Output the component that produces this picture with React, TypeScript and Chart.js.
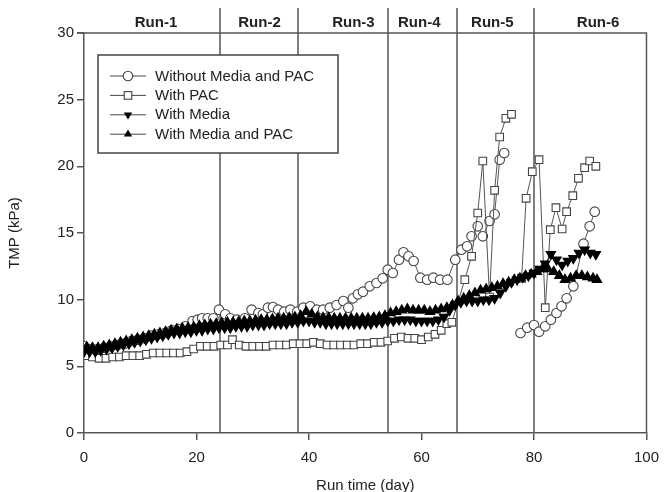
import React, { useEffect, useRef } from 'react';
import { Chart, registerables } from 'chart.js';

Chart.register(...registerables);

const FONT = '"Liberation Sans", Arial, Helvetica, sans-serif';

// Series names and marker kinds
const seriesNames = ['Without Media and PAC', 'With PAC', 'With Media', 'With Media and PAC'];

// Run periods (day boundaries) and their header labels
const runNames = ['Run-1', 'Run-2', 'Run-3', 'Run-4', 'Run-5', 'Run-6'];
const runLabelDays = [12.8, 31.2, 47.9, 59.6, 72.6, 91.4];
const runBoundaryDays = [24.2, 38, 54, 66.3, 80];

// Axis ranges / ticks
const xMin = 0, xMax = 100, xStep = 20;
const yMin = 0, yMax = 30, yStep = 5;

// Without Media and PAC (circles)
const noneDays = [
  0.0, 1.2, 2.4, 3.6, 4.8, 6.0, 7.2, 8.4, 9.6, 10.8, 12.0, 13.2, 14.4, 15.6, 16.8, 18.0,
  19.3, 20.2, 21.0, 22.0, 23.0, 24.0, 25.1, 26.0, 27.2, 28.6, 29.8, 31.0, 31.8, 32.7, 33.6, 34.5,
  35.6, 36.7, 37.9, 39.0, 40.2, 41.4, 42.5, 43.7, 44.9, 46.1, 47.0, 47.8, 48.7, 49.6, 50.8, 52.0,
  53.1, 54.0, 54.9, 56.0, 56.8, 57.7, 58.6, 59.8, 61.0, 62.1, 63.3, 64.6, 66.0, 67.1, 68.1, 68.9,
  70.0, 70.9, 72.1, 73.0, 73.9, 74.7, 76.2, 77.6, 78.8, 80.0, 80.9, 82.0, 83.0, 84.0, 84.9, 85.8,
  87.0, 88.8, 89.9, 90.8,
];
const noneTmp = [
  6.5, 6.3, 6.3, 6.4, 6.5, 6.6, 6.7, 6.9, 7.0, 7.1, 7.3, 7.4, 7.5, 7.7, 7.8, 8.0,
  8.4, 8.5, 8.6, 8.6, 8.6, 9.25, 8.9, 8.6, 8.5, 8.6, 9.25, 9.0, 8.9, 9.4, 9.45, 9.25,
  9.1, 9.25, 9.1, 9.4, 9.5, 9.25, 9.25, 9.4, 9.6, 9.9, 9.4, 10.1, 10.4, 10.6, 11.0, 11.25,
  11.6, 12.25, 12.0, 13.0, 13.55, 13.25, 12.9, 11.65, 11.5, 11.65, 11.5, 11.5, 13.0, 13.75, 14.0, 14.75,
  15.5, 14.75, 15.9, 16.4, 20.5, 21.0, null, 7.5, 7.9, 8.1, 7.6, 8.0, 8.5, 9.0, 9.5, 10.1,
  11.0, 14.2, 15.5, 16.6,
];

// With PAC (squares)
const pacDays = [
  0.3, 1.5, 2.7, 3.9, 5.1, 6.3, 7.5, 8.7, 9.9, 11.1, 12.3, 13.5, 14.7, 15.9, 17.1, 18.3,
  19.5, 20.7, 21.9, 23.1, 24.3, 25.5, 26.4, 27.6, 28.8, 30.0, 31.2, 32.4, 33.6, 34.8, 36.0, 37.2,
  38.4, 39.6, 40.8, 42.0, 43.2, 44.4, 45.6, 46.8, 48.0, 49.2, 50.4, 51.6, 52.8, 54.0, 55.2, 56.4,
  57.6, 58.8, 60.0, 61.2, 62.4, 63.5, 64.5, 65.4, 67.7, 68.9, 70.0, 70.9, 72.1, 73.0, 73.9, 75.0,
  76.0, 77.0, 77.8, 78.6, 79.7, 80.9, 82.0, 82.9, 83.9, 85.0, 85.8, 86.9, 87.9, 89.0, 89.9, 91.0,
];
const pacTmp = [
  5.8, 5.7, 5.6, 5.6, 5.7, 5.7, 5.8, 5.8, 5.8, 5.9, 6.0, 6.0, 6.0, 6.0, 6.0, 6.1,
  6.3, 6.5, 6.5, 6.5, 6.6, 6.6, 7.0, 6.6, 6.5, 6.5, 6.5, 6.5, 6.6, 6.6, 6.6, 6.7,
  6.7, 6.7, 6.8, 6.7, 6.6, 6.6, 6.6, 6.6, 6.6, 6.7, 6.7, 6.8, 6.8, 6.9, 7.1, 7.2,
  7.1, 7.1, 7.0, 7.2, 7.4, 7.7, 8.2, 8.3, 11.5, 13.25, 16.5, 20.4, 10.2, 18.2, 22.2, 23.6,
  23.9, null, 11.6, 17.6, 19.6, 20.5, 9.4, 15.25, 16.9, 15.3, 16.6, 17.8, 19.1, 19.9, 20.4, 20.0,
];

// With Media (down triangles)
const mediaDays = [
  0, 1, 2, 3, 4, 5, 6, 7, 8, 9, 10, 11, 12, 13, 14, 15, 16, 17, 18, 19, 20, 21, 22, 23,
  24, 25, 26, 27, 28, 29, 30, 31, 32, 33, 34, 35, 36, 37, 38, 39, 40, 41, 42, 43, 44, 45, 46, 47,
  48, 49, 50, 51, 52, 53, 54, 55, 56, 57, 58, 59, 60, 61, 62, 63, 64, 65, 66, 67, 68, 69, 70, 71,
  72, 73, 74, 75, 76, 77, 78, 79, 80, 81, 82, 83, 84, 85, 86, 87, 88, 89, 90, 91,
];
const mediaTmp = [
  6.1, 6.1, 6.1, 6.2, 6.3, 6.4, 6.5, 6.6, 6.7, 6.8, 6.9, 7.0, 7.1, 7.2, 7.3, 7.4, 7.5, 7.5, 7.6, 7.6, 7.7, 7.7, 7.8, 7.8,
  7.9, 7.9, 7.9, 8.0, 8.0, 8.0, 8.1, 8.1, 8.1, 8.2, 8.2, 8.2, 8.2, 8.3, 8.3, 8.4, 8.4, 8.3, 8.3, 8.2, 8.2, 8.2, 8.2, 8.2,
  8.2, 8.2, 8.2, 8.2, 8.3, 8.3, 8.4, 8.4, 8.5, 8.5, 8.5, 8.4, 8.4, 8.4, 8.4, 8.5, 8.7, 9.2, 9.6, 9.8, 9.9, 9.9, 9.9, 10.0,
  10.0, 10.1, 10.5, 11.0, 11.3, 11.5, 11.7, 11.8, 12.0, 12.3, 12.7, 13.4, 13.0, 12.6, 12.9, 13.1, 13.5, 13.75, 13.5, 13.4,
];

// With Media and PAC (up triangles)
const mediaPacDays = [
  0.5, 1.5, 2.5, 3.5, 4.5, 5.5, 6.5, 7.5, 8.5, 9.5, 10.5, 11.5, 12.5, 13.5, 14.5, 15.5, 16.5, 17.5, 18.5, 19.5, 20.5, 21.5, 22.5, 23.5,
  24.5, 25.5, 26.5, 27.5, 28.5, 29.5, 30.5, 31.5, 32.5, 33.5, 34.5, 35.5, 36.5, 37.5, 38.5, 39.5, 40.5, 41.5, 42.5, 43.5, 44.5, 45.5, 46.5, 47.5,
  48.5, 49.5, 50.5, 51.5, 52.5, 53.5, 54.5, 55.5, 56.5, 57.5, 58.5, 59.5, 60.5, 61.5, 62.5, 63.5, 64.5, 65.5, 66.5, 67.5, 68.5, 69.5, 70.5, 71.5,
  72.5, 73.5, 74.5, 75.5, 76.5, 77.5, 78.5, 79.5, 80.5, 81.5, 82.5, 83.5, 84.5, 85.5, 86.5, 87.5, 88.5, 89.5, 90.5, 91.2,
];
const mediaPacTmp = [
  6.45, 6.4, 6.4, 6.5, 6.6, 6.7, 6.8, 6.9, 7.0, 7.1, 7.2, 7.3, 7.4, 7.5, 7.6, 7.7, 7.8, 7.85, 7.9, 7.95, 8.05, 8.1, 8.15, 8.2,
  8.25, 8.3, 8.3, 8.35, 8.4, 8.4, 8.45, 8.5, 8.5, 8.55, 8.6, 8.6, 8.65, 8.7, 8.8, 9.1, 8.9, 8.7, 8.65, 8.65, 8.6, 8.6, 8.6, 8.6,
  8.6, 8.6, 8.6, 8.65, 8.7, 8.8, 9.0, 9.1, 9.2, 9.3, 9.2, 9.2, 9.2, 9.1, 9.2, 9.3, 9.4, 9.6, 9.9, 10.1, 10.3, 10.5, 10.7, 10.8,
  10.9, 11.0, 11.2, 11.3, 11.5, 11.6, 11.8, 11.9, 12.1, 12.3, 12.3, 12.1, 11.8, 11.5, 11.6, 11.8, 11.8, 11.7, 11.6, 11.5,
];

const toPoints = (days: number[], vals: (number | null)[]) =>
  days.map((d, i) => ({ x: d, y: vals[i] }));

type MarkerKind = 'circle' | 'square' | 'down' | 'up';
const markerKinds: MarkerKind[] = ['circle', 'square', 'down', 'up'];

function drawMarker(ctx: CanvasRenderingContext2D, kind: MarkerKind, x: number, y: number) {
  ctx.save();
  ctx.lineWidth = 1.1;
  if (kind === 'circle') {
    ctx.beginPath();
    ctx.arc(x, y, 4.8, 0, Math.PI * 2);
    ctx.fillStyle = '#fff';
    ctx.fill();
    ctx.strokeStyle = '#444';
    ctx.stroke();
  } else if (kind === 'square') {
    ctx.fillStyle = '#fff';
    ctx.fillRect(x - 3.8, y - 3.8, 7.6, 7.6);
    ctx.strokeStyle = '#444';
    ctx.strokeRect(x - 3.8, y - 3.8, 7.6, 7.6);
  } else {
    const s = kind === 'up' ? -1 : 1;
    ctx.beginPath();
    ctx.moveTo(x, y + s * 4.8);
    ctx.lineTo(x - 4.2, y - s * 2.4);
    ctx.lineTo(x + 4.2, y - s * 2.4);
    ctx.closePath();
    ctx.fillStyle = '#000';
    ctx.fill();
  }
  ctx.restore();
}

// Frame, run boundaries and run headers
const runPlugin = {
  id: 'runs',
  beforeDatasetsDraw(chart: any) {
    const { ctx, chartArea, scales } = chart;
    const xs = scales.x;
    ctx.save();
    ctx.strokeStyle = '#555';
    ctx.lineWidth = 1.5;
    ctx.beginPath();
    ctx.moveTo(chartArea.left - 7, chartArea.top);
    ctx.lineTo(chartArea.right, chartArea.top);
    ctx.lineTo(chartArea.right, chartArea.bottom);
    ctx.stroke();
    runBoundaryDays.forEach((d) => {
      const px = Math.round(xs.getPixelForValue(d));
      ctx.beginPath();
      ctx.moveTo(px, 8);
      ctx.lineTo(px, chartArea.bottom);
      ctx.stroke();
    });
    ctx.fillStyle = '#222';
    ctx.font = `bold 15px ${FONT}`;
    ctx.textAlign = 'center';
    ctx.textBaseline = 'middle';
    runNames.forEach((n, i) => {
      ctx.fillText(n, xs.getPixelForValue(runLabelDays[i]), 23);
    });
    ctx.restore();
  },
};

// Boxed legend inside the plot
const legendPlugin = {
  id: 'boxLegend',
  afterDatasetsDraw(chart: any) {
    const { ctx, chartArea } = chart;
    const left = chartArea.left + 14;
    const top = chartArea.top + 22;
    const w = 240;
    const h = 98;
    ctx.save();
    ctx.fillStyle = '#fff';
    ctx.fillRect(left, top, w, h);
    ctx.strokeStyle = '#444';
    ctx.lineWidth = 1.5;
    ctx.strokeRect(left, top, w, h);
    seriesNames.forEach((name, i) => {
      const y = top + 21 + i * 19.4;
      ctx.strokeStyle = '#444';
      ctx.lineWidth = 1;
      ctx.beginPath();
      ctx.moveTo(left + 12, y);
      ctx.lineTo(left + 48, y);
      ctx.stroke();
      drawMarker(ctx, markerKinds[i], left + 30, y);
      ctx.fillStyle = '#222';
      ctx.font = `15px ${FONT}`;
      ctx.textAlign = 'left';
      ctx.textBaseline = 'middle';
      ctx.fillText(name, left + 57, y + 0.5);
    });
    ctx.restore();
  },
};

export default function App() {
  const canvasRef = useRef<HTMLCanvasElement | null>(null);

  useEffect(() => {
    const canvas = canvasRef.current;
    if (!canvas) return;
    const tickFont = { family: FONT, size: 15 };
    const chart = new Chart(canvas, {
      type: 'line',
      data: {
        datasets: [
          {
            label: seriesNames[0],
            data: toPoints(noneDays, noneTmp),
            borderColor: '#555',
            borderWidth: 1,
            pointStyle: 'circle',
            pointRadius: 4.8,
            pointBackgroundColor: '#fff',
            pointBorderColor: '#444',
            pointBorderWidth: 1.1,
            order: 2,
          },
          {
            label: seriesNames[1],
            data: toPoints(pacDays, pacTmp),
            borderColor: '#555',
            borderWidth: 1,
            pointStyle: 'rect',
            pointRadius: 5.4,
            pointBackgroundColor: '#fff',
            pointBorderColor: '#444',
            pointBorderWidth: 1.1,
            order: 1,
          },
          {
            label: seriesNames[2],
            data: toPoints(mediaDays, mediaTmp),
            borderColor: '#111',
            borderWidth: 1,
            pointStyle: 'triangle',
            rotation: 180,
            pointRadius: 5.3,
            pointBackgroundColor: '#000',
            pointBorderColor: '#000',
            pointBorderWidth: 1.2,
            order: 0,
          },
          {
            label: seriesNames[3],
            data: toPoints(mediaPacDays, mediaPacTmp),
            borderColor: '#111',
            borderWidth: 1,
            pointStyle: 'triangle',
            pointRadius: 5.3,
            pointBackgroundColor: '#000',
            pointBorderColor: '#000',
            pointBorderWidth: 1.2,
            order: 0,
          },
        ] as any,
      },
      options: {
        animation: false,
        responsive: false,
        spanGaps: false,
        layout: { padding: { left: 0, top: 33, right: 14, bottom: 0 } },
        plugins: { legend: { display: false }, tooltip: { enabled: false } },
        elements: { line: { tension: 0 } },
        scales: {
          x: {
            type: 'linear',
            min: xMin,
            max: xMax,
            afterFit: (s: any) => { s.height = 59; },
            ticks: { stepSize: xStep, color: '#222', font: tickFont, padding: 9, maxRotation: 0 },
            grid: { drawOnChartArea: false, tickLength: 7, color: '#555', lineWidth: 1.5 },
            border: { color: '#555', width: 1.5 },
            title: {
              display: true,
              text: 'Run time (day)',
              color: '#222',
              font: tickFont,
              padding: { top: 0, bottom: -3 },
            },
          },
          y: {
            type: 'linear',
            min: yMin,
            max: yMax,
            afterFit: (s: any) => { s.width = 84; },
            ticks: { stepSize: yStep, color: '#222', font: tickFont, padding: 3 },
            grid: { drawOnChartArea: false, tickLength: 7, color: '#555', lineWidth: 1.5 },
            border: { color: '#555', width: 1.5 },
            title: {
              display: true,
              text: 'TMP (kPa)',
              color: '#222',
              font: tickFont,
              padding: { top: 6, bottom: 0 },
            },
          },
        },
      } as any,
      plugins: [runPlugin, legendPlugin],
    });
    return () => chart.destroy();
  }, []);

  return (
    <div style={{ position: 'fixed', left: 0, top: 0, width: 668, height: 492, background: '#fff' }}>
      <canvas ref={canvasRef} width={668} height={492} style={{ display: 'block' }} />
    </div>
  );
}
